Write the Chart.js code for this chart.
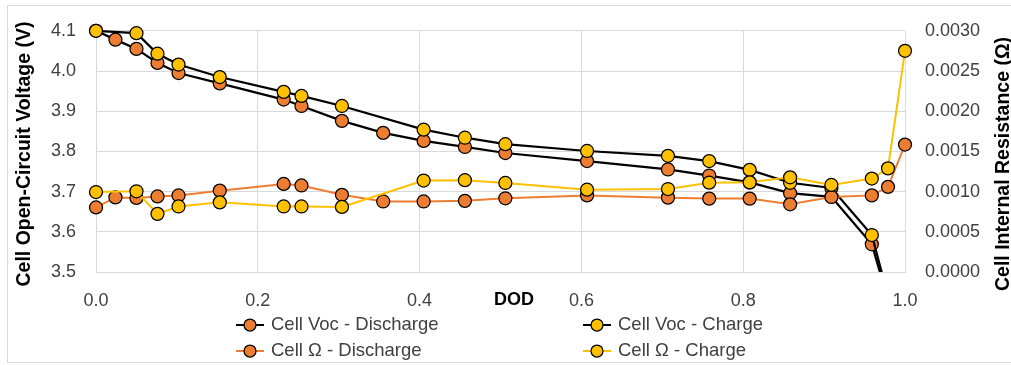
<!DOCTYPE html>
<html>
<head>
<meta charset="utf-8">
<script src="https://cdn.jsdelivr.net/npm/chart.js@4.4.1/dist/chart.umd.min.js"></script>
<style>
  html, body { margin: 0; padding: 0; background: #fff; }
  #wrap { position: relative; width: 1011px; height: 365px; overflow: hidden; }
  #chart { position: absolute; left: 0; top: 0; }
  #frame { position: absolute; left: 7px; top: 5px; width: 1030px; height: 358px;
           border: 1px solid #d9d9d9; box-sizing: border-box; pointer-events: none; }
</style>
</head>
<body>
<div id="wrap">
  <canvas id="chart" width="1011" height="365"></canvas>
  <div id="frame"></div>
</div>
<script>
const dodDischarge = [0, 0.024, 0.05, 0.076, 0.102, 0.153, 0.232, 0.254, 0.304, 0.355, 0.405,
                      0.456, 0.506, 0.607, 0.707, 0.758, 0.808, 0.858, 0.909, 0.959, 0.979, 1.0];
const vocDischarge = [4.100, 4.078, 4.055, 4.020, 3.995, 3.969, 3.929, 3.913, 3.876, 3.846, 3.826,
                      3.811, 3.796, 3.776, 3.755, 3.740, 3.723, 3.696, 3.687, 3.569, 3.430, null];
const ohmDischarge = [0.000803, 0.000928, 0.000921, 0.000940, 0.000952, 0.001012, 0.001095, 0.001076,
                      0.000960, 0.000877, 0.000877, 0.000885, 0.000917, 0.000953, 0.000925, 0.000913,
                      0.000913, 0.000842, 0.000933, 0.000953, 0.001059, 0.001585];

const dodCharge = [0, 0.05, 0.076, 0.102, 0.153, 0.232, 0.254, 0.304, 0.405, 0.456, 0.506,
                   0.607, 0.707, 0.758, 0.808, 0.858, 0.909, 0.959, 0.979, 1.0];
const vocCharge = [4.100, 4.094, 4.043, 4.016, 3.985, 3.948, 3.938, 3.913, 3.854, 3.834, 3.818,
                   3.801, 3.789, 3.776, 3.754, 3.722, 3.709, 3.592, 3.440, null];
const ohmCharge = [0.000995, 0.001004, 0.000723, 0.000815, 0.000866, 0.000815, 0.000815, 0.000810,
                   0.001138, 0.001142, 0.001107, 0.001024, 0.001032, 0.001111, 0.001115, 0.001178,
                   0.001083, 0.001162, 0.001289, 0.002751];

const seriesLabels = ['Cell Voc - Discharge', 'Cell Voc - Charge', 'Cell \u03A9 - Discharge', 'Cell \u03A9 - Charge'];
const xTitle = 'DOD';
const leftTitle = 'Cell Open-Circuit Voltage (V)';
const rightTitle = 'Cell Internal Resistance (\u03A9)';

const FONT = "'Liberation Sans', Arial, sans-serif";
const ORANGE = '#ED7D31';
const YELLOW = '#FFC000';
const GRID = '#d9d9d9';
const TEXT = '#404040';

Chart.defaults.font.family = FONT;
Chart.defaults.color = TEXT;

function pairs(xs, ys) {
    return xs.map((x, i) => ({ x: x, y: ys[i] })).filter(p => p.y !== null);
}

function series(label, data, axis, line, fill, order, bottomClip) {
    return {
        label: label,
        data: data,
        yAxisID: axis,
        borderColor: line,
        borderWidth: line === '#000' ? 2.25 : 2,
        pointBackgroundColor: fill,
        pointBorderColor: '#000',
        pointBorderWidth: 1.25,
        pointRadius: 6.5,
        tension: 0,
        order: order,
        clip: { left: 12, right: 12, top: 12, bottom: bottomClip }
    };
}

const extras = {
    id: 'extras',
    afterDraw(chart) {
        const ctx = chart.ctx;
        ctx.save();
        ctx.fillStyle = '#000';
        ctx.font = 'bold 18px ' + FONT;
        ctx.textAlign = 'center';
        ctx.textBaseline = 'middle';
        ctx.fillText(xTitle, 514, 300);

        ctx.font = 'bold 19.5px ' + FONT;
        ctx.save();
        ctx.translate(25, 154);
        ctx.rotate(-Math.PI / 2);
        ctx.fillText(leftTitle, 0, 0);
        ctx.restore();

        ctx.save();
        ctx.translate(1004, 164);
        ctx.rotate(-Math.PI / 2);
        ctx.fillText(rightTitle, 0, 0);
        ctx.restore();

        // two-column legend like the original
        const colX = [250, 597];
        const rowY = [325, 351];
        ctx.font = '18.5px ' + FONT;
        ctx.textAlign = 'left';
        chart.data.datasets.forEach((ds, i) => {
            const cx = colX[i % 2];
            const cy = rowY[Math.floor(i / 2)];
            ctx.strokeStyle = ds.borderColor;
            ctx.lineWidth = 2;
            ctx.beginPath();
            ctx.moveTo(cx - 14, cy);
            ctx.lineTo(cx + 14, cy);
            ctx.stroke();
            ctx.beginPath();
            ctx.arc(cx, cy, 6, 0, Math.PI * 2);
            ctx.fillStyle = ds.pointBackgroundColor;
            ctx.fill();
            ctx.lineWidth = 1.25;
            ctx.strokeStyle = '#000';
            ctx.stroke();
            ctx.fillStyle = TEXT;
            ctx.fillText(ds.label, cx + 21, cy);
        });
        ctx.restore();
    }
};

new Chart(document.getElementById('chart'), {
    type: 'line',
    data: {
        datasets: [
            series(seriesLabels[0], pairs(dodDischarge, vocDischarge), 'y', '#000', ORANGE, 4, 0),
            series(seriesLabels[1], pairs(dodCharge, vocCharge), 'y', '#000', YELLOW, 3, 0),
            series(seriesLabels[2], pairs(dodDischarge, ohmDischarge), 'y1', ORANGE, ORANGE, 2, 12),
            series(seriesLabels[3], pairs(dodCharge, ohmCharge), 'y1', YELLOW, YELLOW, 1, 12)
        ]
    },
    options: {
        responsive: false,
        animation: false,
        layout: { padding: { top: 19, left: 0, right: 0, bottom: 0 } },
        plugins: { legend: { display: false }, tooltip: { enabled: false } },
        scales: {
            x: {
                type: 'linear', min: 0, max: 1,
                ticks: { stepSize: 0.2, padding: 18, font: { size: 18 }, callback: v => v.toFixed(1) },
                grid: { color: GRID, drawTicks: false },
                border: { color: GRID },
                afterFit(s) { s.height = 93; }
            },
            y: {
                position: 'left', min: 3.5, max: 4.1,
                ticks: { stepSize: 0.1, padding: 20, font: { size: 18 }, callback: v => v.toFixed(1) },
                grid: { color: GRID, drawTicks: false },
                border: { color: GRID },
                afterFit(s) { s.width = 96; }
            },
            y1: {
                position: 'right', min: 0, max: 0.003,
                ticks: { stepSize: 0.0005, padding: 20, font: { size: 18 }, callback: v => v.toFixed(4) },
                grid: { display: false, drawTicks: false },
                border: { display: false },
                afterFit(s) { s.width = 106; }
            }
        }
    },
    plugins: [extras]
});
</script>
</body>
</html>
